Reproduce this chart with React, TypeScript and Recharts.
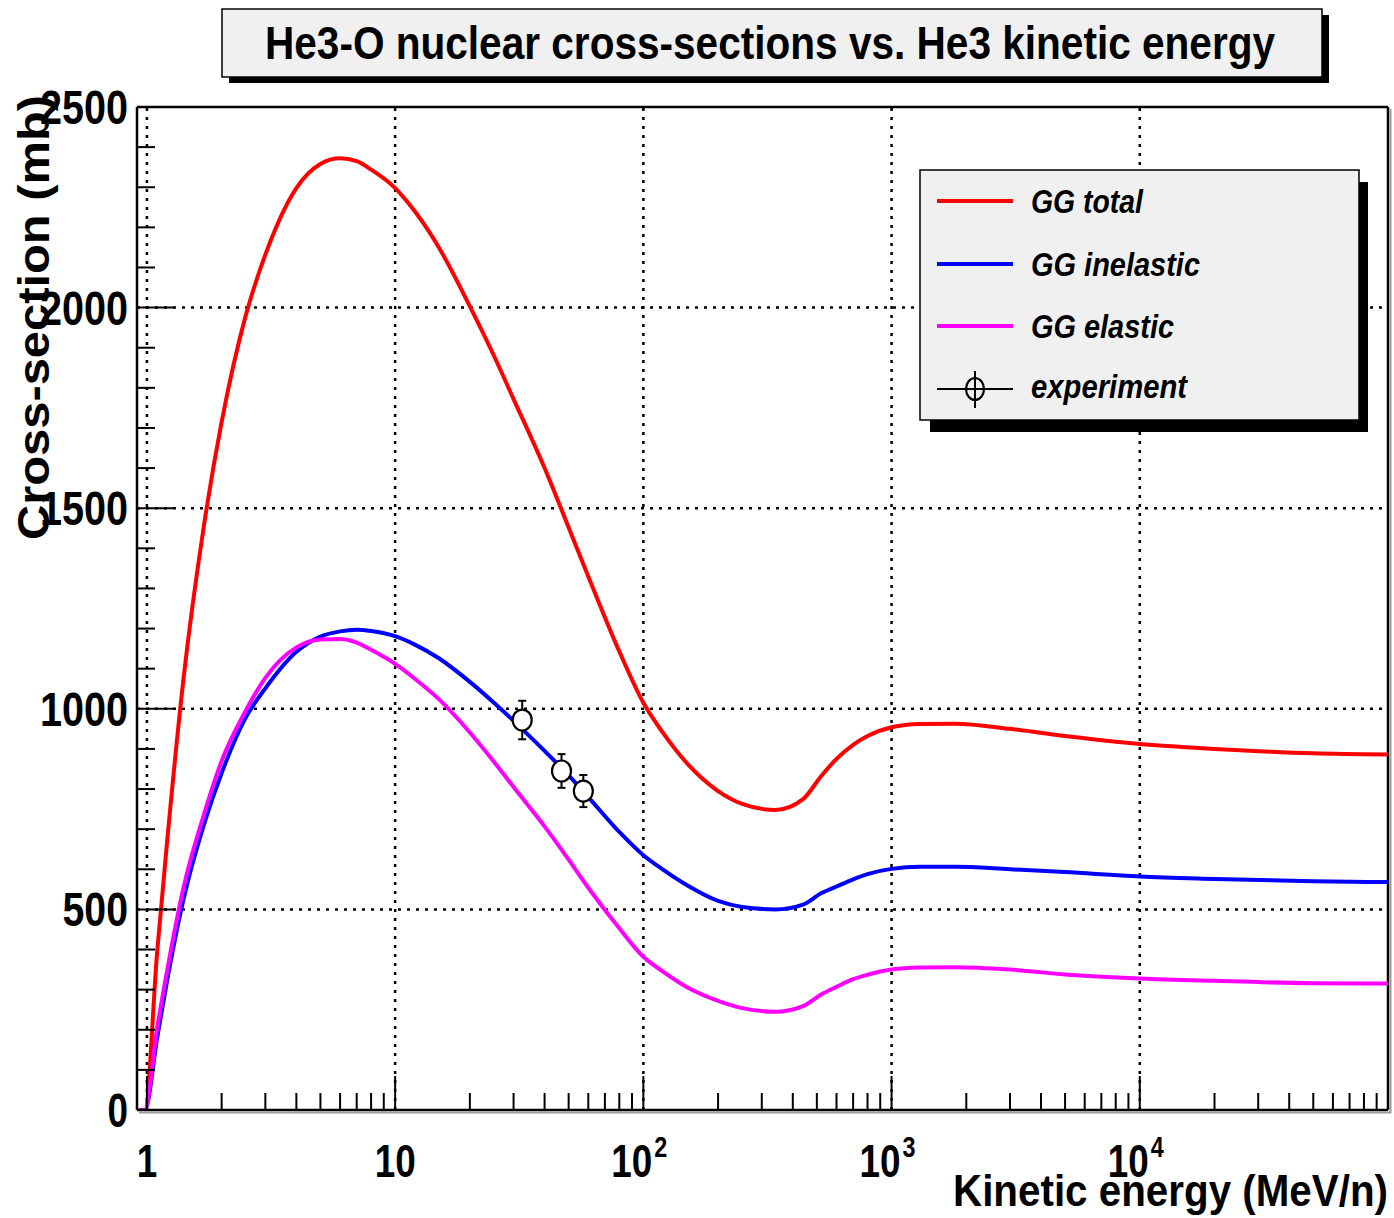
import React from 'react';
import { ComposedChart, Line, Scatter, XAxis, YAxis, ReferenceLine, ErrorBar, Legend } from 'recharts';

// ---------- data ----------
const energies = [0.92, 0.98, 1.1, 1.2, 1.4, 1.7, 2, 2.5, 3, 4, 5, 6, 7, 8, 10, 12, 15, 20, 25, 30, 40, 50, 60, 80, 100, 120, 150, 200, 250, 340, 440, 520, 600, 700, 800, 1000, 1300, 1800, 3000, 5000, 10000, 20000, 50000, 100000];
const totalXS = [0, 0, 395, 655, 1068, 1460, 1715, 1980, 2132, 2298, 2358, 2372, 2365, 2344, 2298, 2240, 2150, 2003, 1880, 1772, 1600, 1452, 1330, 1143, 1015, 940, 864, 795, 763, 748, 775, 832, 875, 910, 932, 954, 962, 963, 950, 932, 912, 900, 889, 886];
const inelasticXS = [0, 0, 180, 315, 522, 713, 840, 978, 1051, 1142, 1180, 1193, 1197, 1194, 1181, 1160, 1126, 1067, 1015, 970, 895, 834, 780, 693, 635, 599, 560, 521, 506, 500, 512, 540, 557, 575, 588, 601, 606, 606, 600, 593, 582, 576, 570, 568];
const elasticXS = [0, 0, 205, 340, 551, 738, 870, 995, 1077, 1153, 1173, 1174, 1165, 1147, 1112, 1075, 1024, 941, 868, 805, 707, 624, 554, 453, 382, 345, 306, 272, 254, 245, 259, 288, 307, 326, 337, 350, 355, 356, 350, 338, 328, 322, 316, 315];

const expEnergies = [32.5, 46.8, 57.3];
const expXS = [972, 845, 795];
const expErr = [48, 42, 40];

const xMajorTicks = [1, 10, 100, 1000, 10000];
const xTickBase = ['1', '10', '10', '10', '10'];
const xTickExp = ['', '', '2', '3', '4'];
const yMajorTicks = [0, 500, 1000, 1500, 2000, 2500];
const yTickLabels = ['0', '500', '1000', '1500', '2000', '2500'];

const seriesNames = ['GG total', 'GG inelastic', 'GG elastic', 'experiment'];
const seriesColors = ['#ff0000', '#0000ff', '#ff00ff', '#000000'];

const TITLE = 'He3-O nuclear cross-sections vs. He3 kinetic energy';
const X_TITLE = 'Kinetic energy (MeV/n)';
const Y_TITLE = 'Cross-section (mb)';

// ---------- derived tables ----------
const rows = energies.map((E, i) => ({ E, total: totalXS[i], inelastic: inelasticXS[i], elastic: elasticXS[i] }));
const expRows = expEnergies.map((E, i) => ({ E, v: expXS[i], err: expErr[i] }));

const xAllTicks: number[] = [];
for (let d = 0; d <= 4; d++) for (let m = 1; m <= 9; m++) xAllTicks.push(m * Math.pow(10, d));
const yAllTicks: number[] = [];
for (let v = 0; v <= 2500; v += 100) yAllTicks.push(v);

const FONT = "'Liberation Sans', Arial, Helvetica, sans-serif";

const XTick = (props: any) => {
  const { x, y, payload } = props;
  const v = payload.value;
  const idx = xMajorTicks.findIndex((t) => Math.abs(t - v) / t < 1e-6);
  const major = idx >= 0;
  return (
    <g>
      <line x1={x} x2={x} y1={y} y2={y - (major ? 34 : 17)} stroke="#000" strokeWidth={2} />
      {major && xTickExp[idx] === '' && (
        <text x={x} y={y + 67} textAnchor="middle" fontFamily={FONT} fontWeight="bold" fontSize={46}
          textLength={20.5 * xTickBase[idx].length} lengthAdjust="spacingAndGlyphs" fill="#000">
          {xTickBase[idx]}
        </text>
      )}
      {major && xTickExp[idx] !== '' && (
        <g>
          <text x={x + 9} y={y + 67} textAnchor="end" fontFamily={FONT} fontWeight="bold" fontSize={46}
            textLength={41} lengthAdjust="spacingAndGlyphs" fill="#000">
            {xTickBase[idx]}
          </text>
          <text x={x + 11} y={y + 47} textAnchor="start" fontFamily={FONT} fontWeight="bold" fontSize={30}
            textLength={13} lengthAdjust="spacingAndGlyphs" fill="#000">
            {xTickExp[idx]}
          </text>
        </g>
      )}
    </g>
  );
};

const YTick = (props: any) => {
  const { x, y, payload } = props;
  const v = payload.value;
  const idx = yMajorTicks.indexOf(v);
  const major = idx >= 0;
  return (
    <g>
      <line x1={x} x2={x + (major ? 37 : 18)} y1={y} y2={y} stroke="#000" strokeWidth={2} />
      {major && (
        <text x={x - 9} y={y + 17} textAnchor="end" fontFamily={FONT} fontWeight="bold" fontSize={48}
          textLength={22.5 * yTickLabels[idx].length - 2} lengthAdjust="spacingAndGlyphs" fill="#000">
          {yTickLabels[idx]}
        </text>
      )}
    </g>
  );
};

const Marker = (props: any) => {
  const { cx, cy } = props;
  if (cx == null || cy == null) return null;
  return <ellipse cx={cx} cy={cy} rx={9.5} ry={10.5} fill="#fff" stroke="#000" strokeWidth={2.2} />;
};

const LEG_L = 914;
const LEG_T = 165;
const legendLineY = [201, 264, 326, 389];
const legendTextY = [213, 276, 338, 398];
const legendTextW = [112, 169, 143, 156];

const renderLegend = () => (
  <svg width={470} height={280} style={{ overflow: 'visible' }}>
    <rect x={930 - LEG_L} y={182 - LEG_T} width={438} height={250} fill="#000" />
    <rect x={920 - LEG_L} y={170 - LEG_T} width={439} height={250} fill="#f0f0f0" stroke="#000" strokeWidth={1.5} />
    {seriesNames.map((name, i) => (
      <g key={name}>
        <line x1={937 - LEG_L} x2={1013 - LEG_L} y1={legendLineY[i] - LEG_T} y2={legendLineY[i] - LEG_T}
          stroke={seriesColors[i]} strokeWidth={i === 3 ? 2 : 4} />
        {i === 3 && (
          <g>
            <line x1={975 - LEG_L} x2={975 - LEG_L} y1={371 - LEG_T} y2={408 - LEG_T} stroke="#000" strokeWidth={2} />
            <ellipse cx={975 - LEG_L} cy={legendLineY[i] - LEG_T} rx={9} ry={11} fill="none" stroke="#000" strokeWidth={2.2} />
          </g>
        )}
        <text x={1031 - LEG_L} y={legendTextY[i] - LEG_T} fontFamily={FONT} fontWeight="bold" fontStyle="italic"
          fontSize={33} textLength={legendTextW[i]} lengthAdjust="spacingAndGlyphs" fill="#000">
          {name}
        </text>
      </g>
    ))}
  </svg>
);

export default function App() {
  return (
    <div style={{ position: 'absolute', left: 0, top: 0, width: 1394, height: 1218, background: '#fff' }}>
      <ComposedChart width={1394} height={1218} data={rows} margin={{ top: 107, right: 6, bottom: 78, left: 77 }}>
        <XAxis dataKey="E" type="number" scale="log" domain={[0.912, 100000]} allowDataOverflow
          ticks={xAllTicks} interval={0} tick={<XTick />} tickLine={false} tickSize={0} tickMargin={0}
          height={30} axisLine={{ stroke: '#000', strokeWidth: 2.5 }} />
        <YAxis type="number" domain={[0, 2500]} allowDataOverflow ticks={yAllTicks} interval={0}
          tick={<YTick />} tickLine={false} tickSize={0} tickMargin={0} width={60}
          axisLine={{ stroke: '#000', strokeWidth: 2.5 }} />
        {xMajorTicks.map((t) => (
          <ReferenceLine key={'gx' + t} x={t} stroke="#000" strokeWidth={2.5} strokeDasharray="3 6" />
        ))}
        {yMajorTicks.slice(1, 5).map((t) => (
          <ReferenceLine key={'gy' + t} y={t} stroke="#000" strokeWidth={2.5} strokeDasharray="3 6" />
        ))}
        <ReferenceLine y={2500} stroke="#000" strokeWidth={2.5} />
        <ReferenceLine x={100000} stroke="#000" strokeWidth={2.5} />
        <Line type="monotone" dataKey="total" name={seriesNames[0]} stroke={seriesColors[0]} strokeWidth={4} dot={false} isAnimationActive={false} />
        <Line type="monotone" dataKey="inelastic" name={seriesNames[1]} stroke={seriesColors[1]} strokeWidth={4} dot={false} isAnimationActive={false} />
        <Line type="monotone" dataKey="elastic" name={seriesNames[2]} stroke={seriesColors[2]} strokeWidth={4} dot={false} isAnimationActive={false} />
        <Scatter data={expRows} dataKey="v" name={seriesNames[3]} shape={<Marker />} isAnimationActive={false}>
          <ErrorBar dataKey="err" direction="y" width={4} stroke="#000" strokeWidth={2} />
        </Scatter>
        <Legend layout="vertical" align="center" verticalAlign="middle" content={renderLegend}
          wrapperStyle={{ left: LEG_L, top: LEG_T, width: 470, height: 280 }} />
      </ComposedChart>
      <svg width={1394} height={1218} style={{ position: 'absolute', left: 0, top: 0, pointerEvents: 'none' }}>
        <line x1={1390.5} x2={1390.5} y1={109} y2={1113} stroke="#999" strokeWidth={2} />
        <line x1={139} x2={1391} y1={1112.5} y2={1112.5} stroke="#999" strokeWidth={2} />
        <rect x={229} y={15} width={1100} height={68} fill="#000" />
        <rect x={222} y={9} width={1100} height={68} fill="#f0f0f0" stroke="#000" strokeWidth={1.5} />
        <text x={770} y={59} textAnchor="middle" fontFamily={FONT} fontWeight="bold" fontSize={47}
          textLength={1010} lengthAdjust="spacingAndGlyphs" fill="#000">{TITLE}</text>
        <text x={1388} y={1206} textAnchor="end" fontFamily={FONT} fontWeight="bold" fontSize={45}
          textLength={435} lengthAdjust="spacingAndGlyphs" fill="#000">{X_TITLE}</text>
        <text transform="translate(49,540) rotate(-90)" x={0} y={0} textAnchor="start" fontFamily={FONT}
          fontWeight="bold" fontSize={45} textLength={445} lengthAdjust="spacingAndGlyphs" fill="#000">{Y_TITLE}</text>
      </svg>
    </div>
  );
}
